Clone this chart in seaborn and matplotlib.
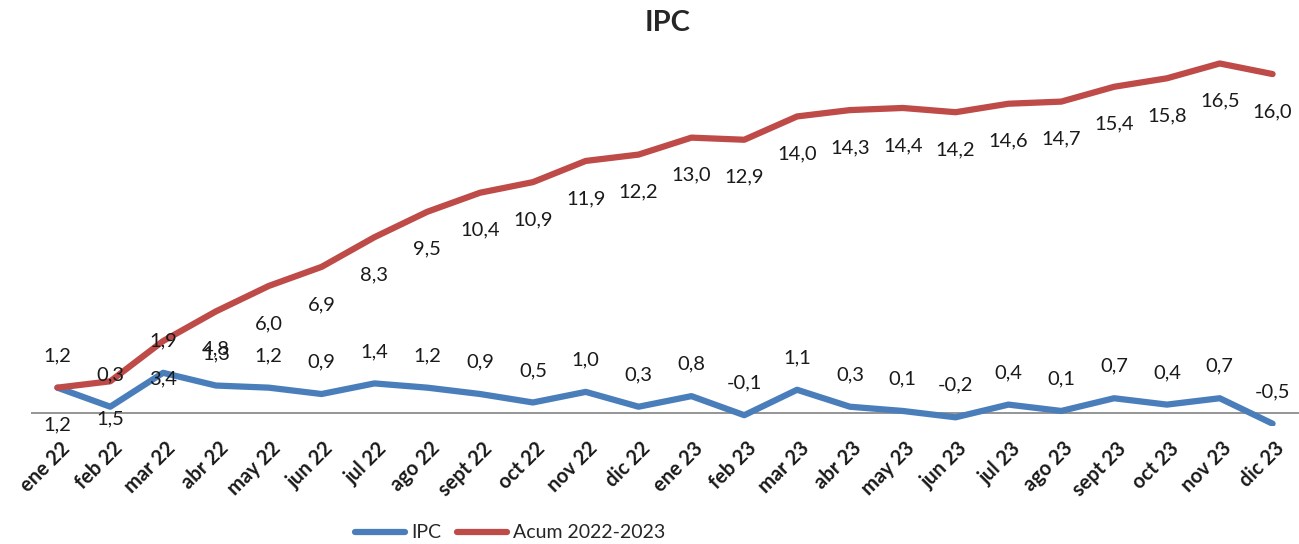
import matplotlib
matplotlib.use("Agg")
import matplotlib.pyplot as plt
import matplotlib.transforms as mtransforms
import numpy as np
import pandas as pd
import seaborn as sns

months = [
    "ene 22", "feb 22", "mar 22", "abr 22", "may 22", "jun 22",
    "jul 22", "ago 22", "sept 22", "oct 22", "nov 22", "dic 22",
    "ene 23", "feb 23", "mar 23", "abr 23", "may 23", "jun 23",
    "jul 23", "ago 23", "sept 23", "oct 23", "nov 23", "dic 23",
]
ipc = [1.2, 0.3, 1.9, 1.3, 1.2, 0.9, 1.4, 1.2, 0.9, 0.5, 1.0, 0.3,
       0.8, -0.1, 1.1, 0.3, 0.1, -0.2, 0.4, 0.1, 0.7, 0.4, 0.7, -0.5]
acum = [1.2, 1.5, 3.4, 4.8, 6.0, 6.9, 8.3, 9.5, 10.4, 10.9, 11.9, 12.2,
        13.0, 12.9, 14.0, 14.3, 14.4, 14.2, 14.6, 14.7, 15.4, 15.8, 16.5, 16.0]
series_names = ["IPC", "Acum 2022-2023"]
colors = ["#4A7EBB", "#BE4B48"]

sns.set_style("white")
plt.rcParams["font.family"] = ["Lato", "DejaVu Sans"]

df = pd.DataFrame({
    "pos": list(range(len(months))) * 2,
    "valor": ipc + acum,
    "serie": [series_names[0]] * len(ipc) + [series_names[1]] * len(acum),
})

fig = plt.figure(figsize=(12.99, 5.44), dpi=100)
ax = fig.add_axes([31 / 1299, 1 - 426 / 544, 1 - 31 / 1299, (426 - 55) / 544])

sns.lineplot(data=df, x="pos", y="valor", hue="serie", palette=colors,
             linewidth=4.5, sort=False, legend=False, ax=ax)

ax.axhline(0, color="#8C8C8C", lw=1.3, zorder=0)

# data labels: IPC above its line, cumulative below
for i, v in enumerate(ipc):
    ax.annotate(f"{v:.1f}".replace(".", ","), (i, v), xytext=(0, 23),
                textcoords="offset points", ha="center", va="center",
                fontsize=14.5, color="#1a1a1a")
for i, v in enumerate(acum):
    ax.annotate(f"{v:.1f}".replace(".", ","), (i, v), xytext=(0, -27),
                textcoords="offset points", ha="center", va="center",
                fontsize=14.5, color="#1a1a1a")

ax.set_xlim(-0.5, 23.5)
ax.set_ylim(-0.61, 16.9)
ax.set_yticks([])
ax.set_xticks(range(len(months)))
ax.set_xticklabels(months, rotation=45, ha="right", va="center",
                   rotation_mode="anchor", fontsize=14.5, fontweight="bold",
                   color="#1a1a1a")
ax.tick_params(axis="x", length=0, pad=14)
shift = mtransforms.ScaledTranslation(9 / 100, 0, fig.dpi_scale_trans)
for lab in ax.get_xticklabels():
    lab.set_transform(lab.get_transform() + shift)
ax.set_xlabel("")
ax.set_ylabel("")
sns.despine(ax=ax, left=True, bottom=True)

fig.text(668 / 1299, 1 - 23 / 544, "IPC", ha="center", va="center",
         fontsize=21, fontweight="bold")

handles = [plt.Line2D([], [], color=c, lw=4.5) for c in colors]
fig.legend(handles, series_names, loc="center", ncol=2, frameon=False,
           bbox_to_anchor=(510 / 1299, 1 - 533 / 544), fontsize=14,
           handlelength=2.6, columnspacing=0.8, handletextpad=0.3)

fig.savefig("out.png", dpi=100)
